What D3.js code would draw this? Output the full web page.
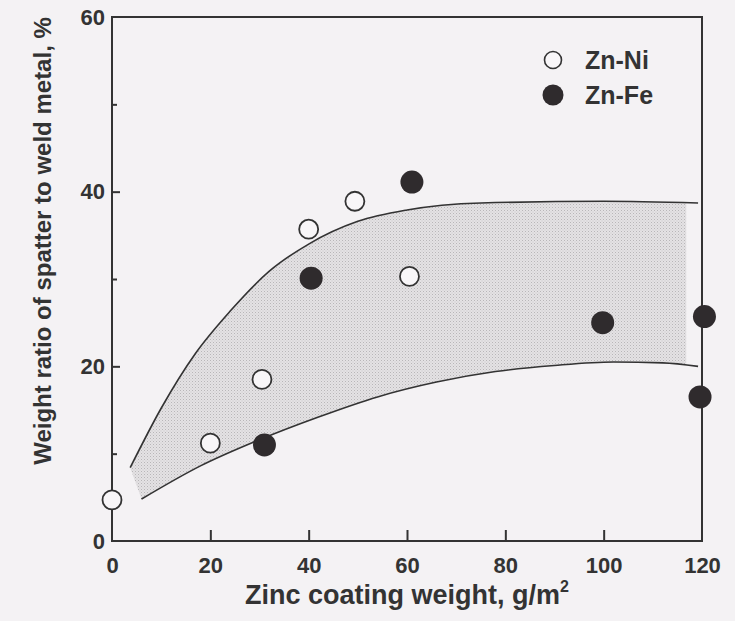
<!DOCTYPE html>
<html>
<head>
<meta charset="utf-8">
<script src="https://cdn.jsdelivr.net/npm/d3@7"></script>
<style>
  html, body { margin: 0; padding: 0; background: #f4f2f4; }
  svg { display: block; }
  text { font-family: "Liberation Sans", Arial, sans-serif; font-weight: bold; fill: #333; }
</style>
</head>
<body>
<svg id="chart" width="735" height="621"></svg>
<script>
// ---- data ----
const xTicks = [0, 20, 40, 60, 80, 100, 120];
const yTicks = [0, 20, 40, 60];
const yMinorTicks = [10, 30, 50];

const znNiX = [0, 20, 30.5, 40, 49.4, 60.5];
const znNiY = [4.7, 11.2, 18.5, 35.7, 38.9, 30.3];

const znFeX = [31, 40.5, 61, 99.8, 120.5, 119.6];
const znFeY = [11.0, 30.1, 41.1, 25.0, 25.7, 16.5];

const upperX = [3.7, 10, 17, 24, 32, 40, 50, 60, 75, 100, 119.2];
const upperY = [8.4, 15.2, 21.5, 26.3, 30.9, 34.0, 36.6, 37.9, 38.7, 38.9, 38.7];

const lowerX = [6, 18, 30, 42, 54, 66, 78, 90, 102, 112, 119.2];
const lowerY = [4.8, 8.6, 11.6, 14.2, 16.5, 18.2, 19.4, 20.1, 20.5, 20.4, 20.0];

const legendLabels = ["Zn-Ni", "Zn-Fe"];

// ---- layout ----
const svg = d3.select("#chart");
const x = d3.scaleLinear().domain([0, 120]).range([112, 702]);
const y = d3.scaleLinear().domain([0, 60]).range([541, 17]);
const ink = "#333";

// pattern for stippled band
const defs = svg.append("defs");
const pat = defs.append("pattern").attr("id", "stipple")
  .attr("patternUnits", "userSpaceOnUse").attr("width", 3).attr("height", 3);
pat.append("rect").attr("width", 3).attr("height", 3).attr("fill", "#e4e2e4");
pat.append("rect").attr("x", 0).attr("y", 0).attr("width", 1).attr("height", 1).attr("fill", "#b8b6b8");
pat.append("rect").attr("x", 1.5).attr("y", 1.5).attr("width", 1).attr("height", 1).attr("fill", "#c8c6c8");

defs.append("clipPath").attr("id", "bandClip")
  .append("rect").attr("x", x(0)).attr("y", y(60))
  .attr("width", x(116.8) - x(0)).attr("height", y(0) - y(60)).attr("rx", 14);

const upper = upperX.map((v, i) => [v, upperY[i]]);
const lower = lowerX.map((v, i) => [v, lowerY[i]]);
const line = d3.line().x(d => x(d[0])).y(d => y(d[1])).curve(d3.curveMonotoneX);
const lineRev = d3.line().x(d => x(d[0])).y(d => y(d[1])).curve(d3.curveCatmullRom.alpha(0.5));

// band fill
const bandPath = line(upper) + "L" + lineRev(lower.slice().reverse()).slice(1) + "Z";
svg.append("path").attr("d", bandPath)
  .attr("fill", "url(#stipple)").attr("clip-path", "url(#bandClip)");

// band lines
svg.append("path").attr("d", line(upper)).attr("fill", "none").attr("stroke", ink).attr("stroke-width", 1.6);
svg.append("path").attr("d", line(lower)).attr("fill", "none").attr("stroke", ink).attr("stroke-width", 1.6);

// frame
svg.append("rect").attr("x", x(0)).attr("y", y(60))
  .attr("width", x(120) - x(0)).attr("height", y(0) - y(60))
  .attr("fill", "none").attr("stroke", ink).attr("stroke-width", 2);

// x axis ticks (inward, upward)
const xAxis = d3.axisBottom(x).tickValues(xTicks).tickSize(-11).tickPadding(16).tickFormat(d3.format("d"));
const gx = svg.append("g").attr("transform", `translate(0,${y(0)})`).call(xAxis);
gx.select(".domain").remove();
gx.selectAll(".tick line").attr("stroke", ink).attr("stroke-width", 2)
  .filter(d => d === 0 || d === 120).remove();
gx.selectAll(".tick text").attr("font-size", 22).attr("fill", ink)
  .attr("font-family", "Liberation Sans, Arial, sans-serif").attr("font-weight", "bold");

// y axis ticks (inward)
const yAxis = d3.axisLeft(y).tickValues(yTicks).tickSize(-8).tickPadding(7).tickFormat(d3.format("d"));
const gy = svg.append("g").attr("transform", `translate(${x(0)},0)`).call(yAxis);
gy.select(".domain").remove();
gy.selectAll(".tick line").attr("stroke", ink).attr("stroke-width", 2)
  .filter(d => d === 0 || d === 60).remove();
gy.selectAll(".tick text").attr("font-size", 22).attr("fill", ink)
  .attr("font-family", "Liberation Sans, Arial, sans-serif").attr("font-weight", "bold");

const yMinor = d3.axisLeft(y).tickValues(yMinorTicks).tickSize(-5).tickFormat("");
const gym = svg.append("g").attr("transform", `translate(${x(0)},0)`).call(yMinor);
gym.select(".domain").remove();
gym.selectAll(".tick line").attr("stroke", ink).attr("stroke-width", 2);

// points
svg.append("g").selectAll("circle").data(znNiX.map((v, i) => [v, znNiY[i]])).join("circle")
  .attr("cx", d => x(d[0])).attr("cy", d => y(d[1])).attr("r", 9.5)
  .attr("fill", "#f8f6f8").attr("stroke", ink).attr("stroke-width", 1.8);
svg.append("g").selectAll("circle").data(znFeX.map((v, i) => [v, znFeY[i]])).join("circle")
  .attr("cx", d => x(d[0])).attr("cy", d => y(d[1])).attr("r", 11.5)
  .attr("fill", "#2f2b2d");

// legend
const lg = svg.append("g");
lg.append("circle").attr("cx", 553).attr("cy", 60).attr("r", 8.5)
  .attr("fill", "#f8f6f8").attr("stroke", ink).attr("stroke-width", 1.6);
lg.append("circle").attr("cx", 553).attr("cy", 95).attr("r", 10.5).attr("fill", "#2f2b2d");
lg.selectAll("text").data(legendLabels).join("text")
  .attr("x", 585).attr("y", (d, i) => 60 + i * 35).attr("dy", "0.36em")
  .attr("font-size", 25).text(d => d);

// axis titles
const xt = svg.append("text").attr("x", (x(0) + x(120)) / 2).attr("y", 604)
  .attr("text-anchor", "middle").attr("font-size", 27);
xt.append("tspan").text("Zinc coating weight, g/m");
xt.append("tspan").attr("font-size", 16).attr("dy", -12).text("2");

svg.append("text").attr("transform", "translate(51,241) rotate(-90)")
  .attr("text-anchor", "middle").attr("font-size", 24)
  .text("Weight ratio of spatter to weld metal, %");
</script>
</body>
</html>
